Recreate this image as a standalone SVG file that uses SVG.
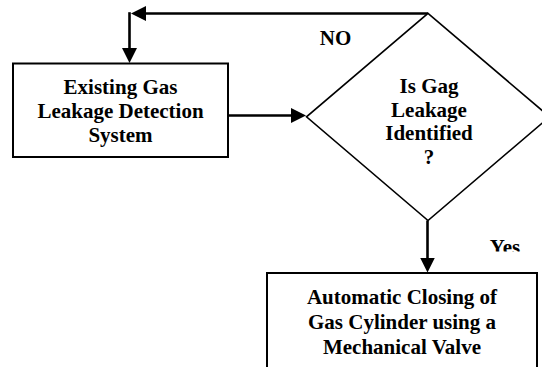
<svg xmlns="http://www.w3.org/2000/svg" width="542" height="367" viewBox="0 0 542 367">
<style>
.box{fill:#fff;stroke:#000;stroke-width:2}
.dia{fill:#fff;stroke:#000;stroke-width:1.6}
.con{fill:none;stroke:#000;stroke-width:2.6}
text{font-family:'Liberation Serif','Times New Roman','DejaVu Serif',serif;font-weight:bold;font-size:21px;fill:#000;text-anchor:middle}
</style>
<defs>
<marker id="ah" viewBox="0 0 15 15" refX="11" refY="7.5" markerWidth="15" markerHeight="15" markerUnits="userSpaceOnUse" orient="auto">
<path d="M0,0 L15,7.5 L0,15 z" fill="#000"/>
</marker>
<clipPath id="yclip"><rect x="470" y="220" width="72" height="31.5"/></clipPath>
</defs>
<rect width="542" height="367" fill="#fff"/>
<g id="connectors">
<path class="con" d="M428,13.5 H135" marker-end="url(#ah)"/>
<path class="con" d="M129.5,12.2 V59" marker-end="url(#ah)"/>
<path class="con" d="M228,115.5 H302" marker-end="url(#ah)"/>
<path class="con" d="M427.5,220.5 V268.5" marker-end="url(#ah)"/>
<text x="335.5" y="45">NO</text>
<text x="505" y="253.5" clip-path="url(#yclip)">Yes</text>
</g>
<g id="existing">
<rect class="box" x="13" y="63.5" width="215" height="93.5"/>
<text x="120.5" y="94.3">Existing Gas</text>
<text x="120.5" y="118.3">Leakage Detection</text>
<text x="120.5" y="142.3">System</text>
</g>
<g id="decision">
<path class="dia" d="M428,13.3 L549.5,116.8 L428,220.5 L306.5,116.8 Z"/>
<text x="429" y="93.3">Is Gag</text>
<text x="429" y="116.5">Leakage</text>
<text x="429" y="139.8">Identified</text>
<text x="429" y="163.5">?</text>
</g>
<g id="closing">
<rect class="box" x="267" y="273" width="270" height="110"/>
<text x="402" y="304">Automatic Closing of</text>
<text x="402" y="329">Gas Cylinder using a</text>
<text x="402" y="353.5">Mechanical Valve</text>
</g>
</svg>
